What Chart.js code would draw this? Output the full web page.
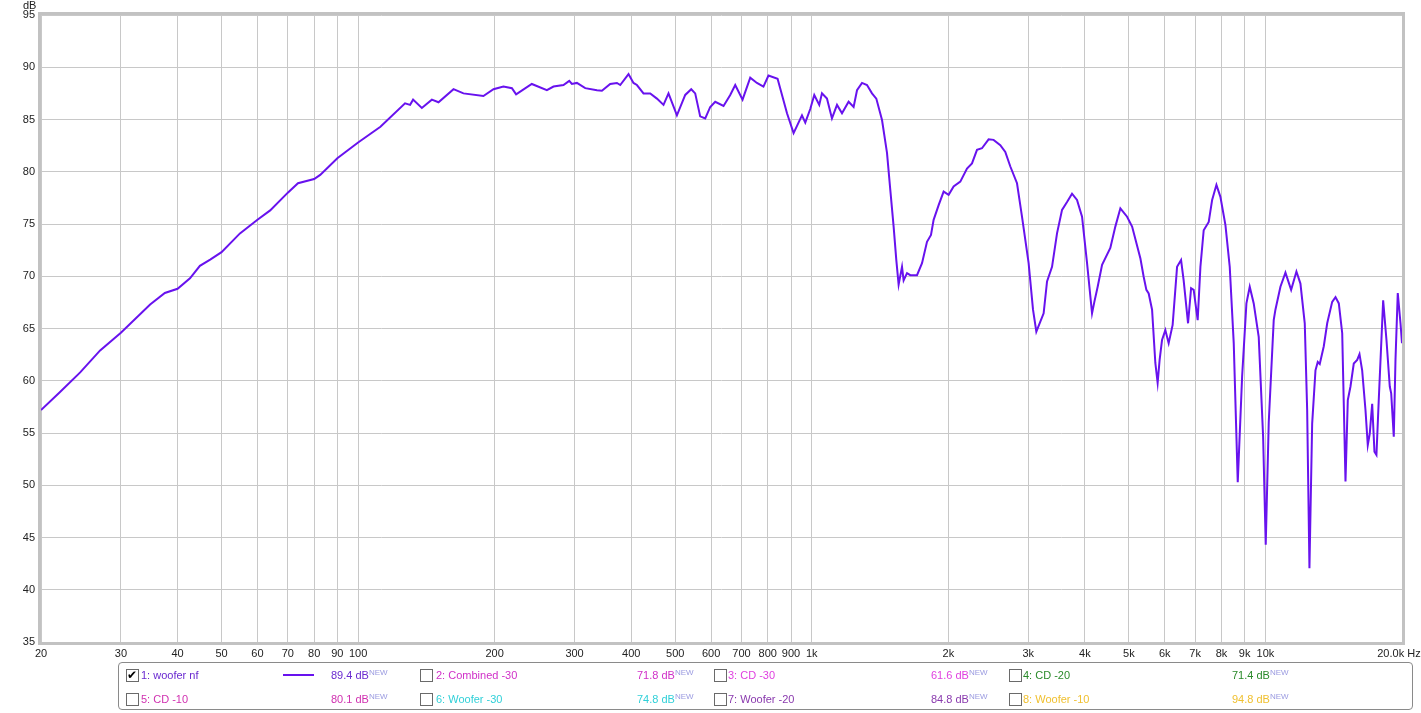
<!DOCTYPE html>
<html>
<head>
<meta charset="utf-8">
<script src="https://cdn.jsdelivr.net/npm/chart.js@4.4.1/dist/chart.umd.min.js"></script>
<style>
  html, body { margin: 0; padding: 0; background: #fff; }
  #wrap { position: relative; width: 1421px; height: 713px; overflow: hidden; }
  #c { position: absolute; left: 0; top: 0; }
  .txt { position: absolute; font-family: "Liberation Sans", Arial, sans-serif; font-size: 11px; line-height: 12px; white-space: nowrap; }
  #legend { position: absolute; left: 118px; top: 662px; width: 1295px; height: 48px; border: 1px solid #8a8a8a; border-radius: 4px; box-sizing: border-box; }
  .cb { position: absolute; width: 11px; height: 11px; border: 1px solid #6a6a6a; background: #fff; box-sizing: content-box; }
  .cb span { position: absolute; left: 0px; top: -2px; font-size: 12px; line-height: 14px; color: #000; font-family: "DejaVu Sans", sans-serif; }
  sup { font-size: 8px; vertical-align: 0; position: relative; top: -4px; color: #9a9ae0; }
</style>
</head>
<body>
<div id="wrap">
  <canvas id="c" width="1421" height="713"></canvas>
  <div class="txt" style="left:23px;top:-1px;color:#222;">dB</div>
  <div id="legend"></div>
</div>
<script>
// ---- data ----
const freqHz = [
  20, 22.0, 24.4, 27.0, 30, 34.8, 37.5, 40, 42.6, 44.8, 47.2, 50, 54.9, 60, 64, 70, 73.7, 80, 82.5, 90, 100, 112,
  126.9, 130.2, 132.2, 138.2, 145.4, 150.4, 162.3, 170.7, 188.9, 198.8, 209.1, 218.3, 223.0, 241.5, 260.7, 269.6,
  283.6, 292.0, 296.0, 303.6, 316.7, 336.1, 344.7, 359.5, 372.0, 378.3, 394.5, 404.6, 411.7, 425.7, 440.5, 455.7,
  471.2, 483.3, 504.4, 526.1, 542.4, 553.4, 567.6, 582.3, 597.3, 612.6, 639.0, 661.1, 678.1, 703.8, 731.8, 757.1,
  782.5, 802.8, 840.7, 881.9, 911.9, 951.5, 967.6, 992.4, 1012.8, 1038.8, 1053.1, 1080.2, 1107.9, 1136.7, 1165.9,
  1205.5, 1236.7, 1258.2, 1290.5, 1323.6, 1357.6, 1387.6, 1428.4, 1465.0, 1489.9, 1515.1, 1535.9, 1554.0, 1581.0,
  1594.0, 1621.6, 1649.1, 1706.0, 1749.9, 1794.7, 1831.5, 1856.1, 1904.0, 1952.9, 2003, 2054.5, 2125.3, 2198.8,
  2255.2, 2313.1, 2372.4, 2453.6, 2516.5, 2603.6, 2670.5, 2739.6, 2834.0, 2906.7, 3006.1, 3073.9, 3126.1, 3190.1,
  3244.2, 3300.7, 3385.4, 3472.2, 3561.9, 3653.3, 3747.0, 3843.2, 3942.5, 4044.0, 4147.7, 4196.6, 4267.8, 4364.3,
  4551, 4668, 4789, 4955, 5083, 5302, 5390, 5465, 5529, 5625, 5719, 5786, 5845, 5917, 6017, 6119, 6244, 6386, 6517,
  6603, 6752, 6857, 6948, 7090, 7189, 7310, 7499, 7630, 7798, 7957, 8163, 8343, 8514, 8689, 8884, 9080, 9234, 9423,
  9665, 9883, 10015, 10169, 10430, 10520, 10791, 11069, 11394, 11704, 11944, 12209, 12359, 12503, 12677, 12892,
  13042, 13175, 13447, 13682, 14033, 14271, 14513, 14765, 15013, 15190, 15398, 15658, 15931, 16119, 16339, 16616,
  16811, 16982, 17191, 17390, 17567, 17774, 18176, 18484, 18797, 18932, 19182, 19350, 19575, 19848, 20000
];
const levelDb = [
  57.2, 58.9, 60.8, 62.9, 64.6, 67.3, 68.4, 68.8, 69.8, 71.0, 71.6, 72.3, 74.1, 75.4, 76.3, 78.0, 78.9, 79.3, 79.7, 81.3, 82.8, 84.3,
  86.55, 86.4, 86.9, 86.1, 86.9, 86.65, 87.9, 87.5, 87.25, 87.9, 88.15, 88.0, 87.4, 88.4, 87.8, 88.15,
  88.3, 88.7, 88.4, 88.5, 88.0, 87.8, 87.75, 88.4, 88.5, 88.3, 89.35, 88.5, 88.3, 87.5, 87.5, 87.0,
  86.4, 87.5, 85.4, 87.35, 87.9, 87.5, 85.3, 85.1, 86.2, 86.7, 86.3, 87.35, 88.3, 86.9, 89.0, 88.5,
  88.15, 89.2, 88.9, 85.6, 83.7, 85.4, 84.7, 86.0, 87.35, 86.4, 87.5, 87.0, 85.1, 86.4, 85.6,
  86.7, 86.2, 87.8, 88.5, 88.3, 87.5, 87.0, 84.95, 81.8, 78.25, 74.75, 71.55, 69.2, 70.9,
  69.6, 70.3, 70.1, 70.1, 71.25, 73.3, 73.95, 75.4, 76.8, 78.1, 77.8, 78.6, 79.05, 80.3,
  80.8, 82.1, 82.25, 83.1, 83.05, 82.55, 81.9, 80.5, 78.9, 75.7, 71.25, 66.8, 64.7, 65.65,
  66.45, 69.5, 70.9, 74.1, 76.35, 77.1, 77.9, 77.3, 75.7, 71.25, 66.45, 67.55, 69.0, 71.1,
  72.7, 74.75, 76.5, 75.7, 74.75, 71.7, 69.95, 68.7, 68.35, 66.8, 61.7, 59.8, 62.0, 63.9, 64.85, 63.6, 65.35, 70.9, 71.55,
  69.6, 65.5, 68.85, 68.7, 65.8, 70.9, 74.4, 75.2, 77.3, 78.75, 77.6, 74.9, 70.9, 63.6, 50.3, 60.4, 67.4, 69.0, 67.4,
  64.2, 54.65, 44.3, 56.0, 65.8, 66.8, 69.0, 70.35, 68.7, 70.45, 69.3, 65.5, 57.2, 42.05, 55.9, 61.0,
  61.8, 61.6, 63.3, 65.5, 67.55, 68.0, 67.4, 64.55, 50.35, 58.15, 59.45, 61.65, 62.0, 62.55, 61.0, 57.2,
  53.85, 54.95, 57.8, 53.2, 52.9, 58.15, 67.7, 63.9, 59.45, 58.8, 54.65, 62.0, 68.4, 65.5, 63.6
];
const xTickValues = [20, 30, 40, 50, 60, 70, 80, 90, 100, 200, 300, 400, 500, 600, 700, 800, 900,
  1000, 2000, 3000, 4000, 5000, 6000, 7000, 8000, 9000, 10000, 20000];
const xTickLabels = ['20', '30', '40', '50', '60', '70', '80', '90', '100', '200', '300', '400', '500', '600', '700', '800', '900',
  '1k', '2k', '3k', '4k', '5k', '6k', '7k', '8k', '9k', '10k', '20.0k Hz  '];
const yMin = 35, yMax = 95, yStep = 5;

const legendNames = ['1: woofer nf', '2: Combined -30', '3: CD -30', '4: CD -20',
                     '5: CD -10', '6: Woofer -30', '7: Woofer -20', '8: Woofer -10'];
const legendValues = ['89.4', '71.8', '61.6', '71.4', '80.1', '74.8', '84.8', '94.8'];
const legendChecked = [true, false, false, false, false, false, false, false];

// ---- styles ----
const lineColor = '#6812ee';
const legendColors = ['#6a2ad0', '#d030c8', '#e040e0', '#2a8a2a', '#d030b0', '#30d0d8', '#8a3aae', '#f0c030'];
const legendCbX = [126, 420, 714, 1009];
const legendNameX = [141, 436, 728, 1023];
const legendValX = [331, 637, 931, 1232];

// legend
const lg = document.getElementById('legend');
const wrapEl = document.getElementById('wrap');
legendNames.forEach((name, i) => {
  const col = i % 4, row = Math.floor(i / 4);
  const yc = row === 0 ? 675 : 699;
  const cb = document.createElement('div');
  cb.className = 'cb';
  cb.style.left = legendCbX[col] + 'px';
  cb.style.top = (yc - 6) + 'px';
  if (legendChecked[i]) { const s = document.createElement('span'); s.textContent = '\u2714'; cb.appendChild(s); }
  wrapEl.appendChild(cb);
  const nm = document.createElement('div');
  nm.className = 'txt';
  nm.style.left = legendNameX[col] + 'px';
  nm.style.top = (yc - 6) + 'px';
  nm.style.color = legendColors[i];
  nm.textContent = name;
  wrapEl.appendChild(nm);
  const vl = document.createElement('div');
  vl.className = 'txt';
  vl.style.left = legendValX[col] + 'px';
  vl.style.top = (yc - 6) + 'px';
  vl.style.color = legendColors[i];
  vl.innerHTML = legendValues[i] + ' dB<sup>NEW</sup>';
  wrapEl.appendChild(vl);
});
// line sample for checked series
const sample = document.createElement('div');
sample.style.cssText = 'position:absolute;left:283px;top:674px;width:31px;height:2px;background:' + lineColor + ';';
wrapEl.appendChild(sample);

const borderPlugin = {
  id: 'frame',
  afterDraw(chart) {
    const a = chart.chartArea, ctx = chart.ctx;
    ctx.save();
    ctx.strokeStyle = '#c2c2c2';
    ctx.lineWidth = 3;
    ctx.strokeRect(a.left - 1.5, a.top - 1.5, a.right - a.left + 3, a.bottom - a.top + 3);
    ctx.restore();
  }
};

const pts = freqHz.map((f, i) => ({ x: f, y: levelDb[i] }));

new Chart(document.getElementById('c'), {
  type: 'line',
  data: {
    datasets: [{
      label: '1: woofer nf',
      data: pts,
      borderColor: lineColor,
      borderWidth: 2,
      pointRadius: 0,
      tension: 0,
      fill: false
    }]
  },
  options: {
    responsive: false,
    animation: false,
    devicePixelRatio: 1,
    layout: { padding: { top: 15, right: 19, bottom: 0, left: 0 } },
    plugins: { legend: { display: false }, tooltip: { enabled: false } },
    scales: {
      x: {
        type: 'logarithmic',
        min: 20, max: 20000,
        afterBuildTicks: (axis) => { axis.ticks = xTickValues.map(v => ({ value: v })); },
        afterFit: (scale) => { scale.height = 71; scale.paddingLeft = 0; scale.paddingRight = 0; },
        grid: { color: '#c8c8c8', lineWidth: 1, drawTicks: false },
        border: { display: false },
        ticks: {
          autoSkip: false, maxRotation: 0, minRotation: 0, padding: 5,
          color: '#222',
          font: { family: '"Liberation Sans", Arial, sans-serif', size: 11 },
          callback: (v) => { const k = xTickValues.indexOf(v); return k >= 0 ? xTickLabels[k] : ''; }
        }
      },
      y: {
        type: 'linear',
        min: yMin, max: yMax,
        afterFit: (scale) => { scale.width = 41; scale.paddingTop = 0; scale.paddingBottom = 0; },
        grid: { color: '#c8c8c8', lineWidth: 1, drawTicks: false },
        border: { display: false },
        ticks: {
          stepSize: yStep, padding: 6,
          color: '#222',
          font: { family: '"Liberation Sans", Arial, sans-serif', size: 11 }
        }
      }
    }
  },
  plugins: [borderPlugin]
});
</script>
</body>
</html>
